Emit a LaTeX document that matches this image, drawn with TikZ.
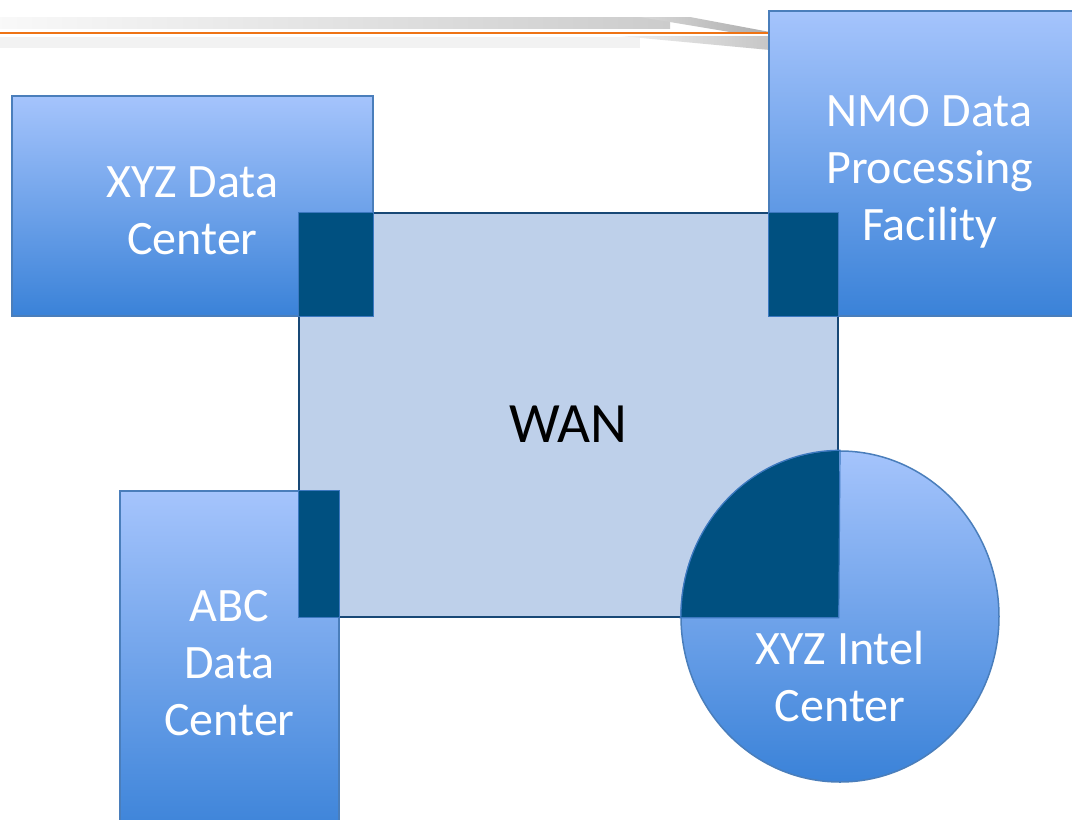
\documentclass[tikz,border=0pt]{standalone}
\usepackage{fontspec}
\setmainfont{Carlito}
\usepackage{tikz}
\usetikzlibrary{shapes.geometric}
\definecolor{boxtop}{RGB}{165,196,252}
\definecolor{boxbot}{RGB}{58,130,216}
\definecolor{boxline}{RGB}{74,126,187}
\definecolor{wanfill}{RGB}{190,208,234}
\definecolor{wanline}{RGB}{24,72,118}
\definecolor{ovfill}{RGB}{0,80,128}
\definecolor{ovline}{RGB}{60,120,192}
\definecolor{barorange}{RGB}{238,115,20}
\tikzset{
  site/.style={draw=boxline,line width=1.5pt,top color=boxtop,bottom color=boxbot,inner sep=0pt},
  sitelab/.style={text=white,align=center,font=\fontsize{48}{57}\selectfont},
  wanbox/.style={draw=wanline,line width=1.5pt,fill=wanfill,inner sep=0pt},
  ovedge/.style={draw=ovline,line width=1.2pt},
}

\begin{document}
\begin{tikzpicture}[x=1pt,y=-1pt]
  \clip (0,0) rectangle (1072,820);
  \fill[white] (0,0) rectangle (1072,820);
  % title bar
  \shade[left color=gray!5,right color=gray!40] (0,17) rectangle (670,28);
  \shade[left color=gray!30,right color=gray!65] (640,17) -- (690,17) -- (770,32) -- (730,32) -- cycle;
  \fill[gray!10] (0,37) rectangle (640,48);
  \shade[left color=gray!12,right color=gray!45] (620,36) -- (770,36) -- (770,50) -- cycle;
  \draw[barorange,line width=2.5pt] (0,33) -- (770,33);
  % sites
  \node[site,minimum width=361pt,minimum height=220pt] (xyz) at (192.5,206) {};
  \node[site,minimum width=321pt,minimum height=305pt] (nmo) at (929.5,163.5) {};
  \node[site,minimum width=219pt,minimum height=349pt] (abc) at (229.5,665.5) {};
  \node[wanbox,minimum width=539pt,minimum height=404pt] (wan) at (568.5,415) {};
  \node[site,ellipse,minimum width=318pt,minimum height=331pt] (intel) at (840,616.5) {};
  % overlaps with the WAN
  \begin{scope}
    \clip (wan.south west) rectangle (wan.north east);
    \fill[ovfill] (xyz.south west) rectangle (xyz.north east);
    \fill[ovfill] (nmo.south west) rectangle (nmo.north east);
    \fill[ovfill] (abc.south west) rectangle (abc.north east);
    \fill[ovfill] (intel.center) ellipse [x radius=159, y radius=165.5];
  \end{scope}
  \draw[ovedge] (wan.north west) rectangle (xyz.south east);
  \draw[ovedge] (nmo.west |- wan.north) rectangle (wan.east |- nmo.south);
  \draw[ovedge] (wan.west |- abc.north) rectangle (abc.east |- wan.south);
  \draw[ovedge] (intel.west |- wan.south) -- (wan.south east) -- (intel.north)
    arc [start angle=270, end angle=180, x radius=159, y radius=165.5] -- cycle;
  % labels
  \node[sitelab] (xyzlab) at ([yshift=-5pt]xyz.center) {XYZ Data\\Center};
  \node[sitelab] (nmolab) at ([yshift=-8pt]nmo.center) {NMO Data\\Processing\\Facility};
  \node[sitelab] (abclab) at ([yshift=2pt]abc.center) {ABC\\Data\\Center};
  \node[sitelab] (intellab) at ([yshift=-60pt]intel.center) {XYZ Intel\\Center};
  \node[font=\fontsize{57}{68}\selectfont] (wanlab) at ([yshift=-9pt]wan.center) {WAN};
\end{tikzpicture}
\end{document}
